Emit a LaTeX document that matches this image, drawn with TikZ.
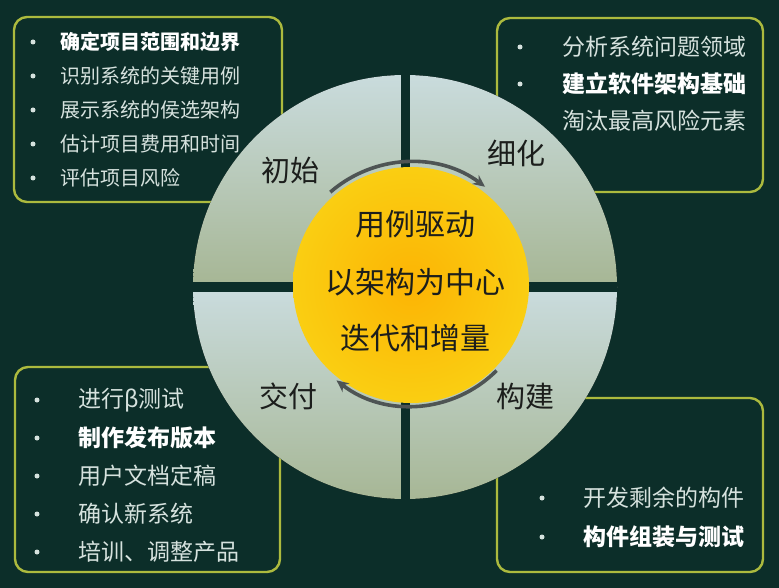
\documentclass[tikz,border=0pt]{standalone}
\usepackage{fontspec}
\setmainfont{Noto Sans CJK SC}
\usetikzlibrary{arrows.meta,shadings}

\definecolor{bg}{RGB}{12,46,41}
\definecolor{edge}{RGB}{172,186,62}
\definecolor{itemgray}{RGB}{214,226,222}
\definecolor{qlight}{RGB}{202,220,222}
\definecolor{qdark}{RGB}{166,182,148}
\definecolor{hubin}{RGB}{252,180,4}
\definecolor{hubout}{RGB}{250,206,18}
\definecolor{arcgray}{RGB}{78,84,84}
\definecolor{labeldark}{RGB}{28,30,28}

\begin{document}
\begin{tikzpicture}[x=1pt,y=-1pt,
  panel/.style={draw=edge,line width=2.4pt,rounded corners=13pt,inner sep=0pt},
  dot/.style={circle,fill=itemgray,inner sep=0pt,minimum size=5pt},
  item/.style={anchor=west,inner sep=0pt,text=itemgray},
  phase/.style={text=labeldark,font=\fontsize{29}{34}\selectfont},
  motto/.style={text=labeldark,font=\fontsize{30}{36}\selectfont},
  cycle arrow/.style={draw=arcgray,line width=3.6pt,-{Stealth[length=12pt,width=11pt]}}]
\useasboundingbox (0,0) rectangle (779,588);
\fill[bg] (0,0) rectangle (779,588);

% the four boxes
\node[panel,minimum width=268pt,minimum height=185pt] (initbox) at (148,109.5) {};
\node[panel,minimum width=266pt,minimum height=174pt] (elabbox) at (630,105) {};
\node[panel,minimum width=265pt,minimum height=205pt] (tranbox) at (147.5,469.5) {};
\node[panel,minimum width=266pt,minimum height=174pt] (consbox) at (630,485) {};

% box texts
\begin{scope}[item/.append style={font=\fontsize{20}{24}\selectfont}]
\node[dot] (idot1) at (33,42) {};
\node[item,text=white,font=\fontsize{20}{24}\selectfont\bfseries] (iitem1) at (60,42) {确定项目范围和边界};
\foreach \y/\t [count=\i from 2] in {76/识别系统的关键用例,110/展示系统的侯选架构,144/估计项目费用和时间,178/评估项目风险}{
  \node[dot] (idot\i) at (33,\y) {};
  \node[item] (iitem\i) at (60,\y) {\t};
}
\end{scope}

\begin{scope}[item/.append style={font=\fontsize{23}{28}\selectfont}]
\node[dot] (edot1) at (520,47) {};
\node[item] (eitem1) at (562,47) {分析系统问题领域};
\node[dot] (edot2) at (520,84) {};
\node[item,text=white,font=\fontsize{23}{28}\selectfont\bfseries] (eitem2) at (562,84) {建立软件架构基础};
\node[item] (eitem3) at (562,121) {淘汰最高风险元素};

\node[dot] (tdot1) at (37,400) {};
\node[item] (titem1) at (78,400) {进行β测试};
\node[dot] (tdot2) at (37,438) {};
\node[item,text=white,font=\fontsize{23}{28}\selectfont\bfseries] (titem2) at (78,438) {制作发布版本};
\foreach \y/\t [count=\i from 3] in {476/用户文档定稿,514/确认新系统,552/培训、调整产品}{
  \node[dot] (tdot\i) at (37,\y) {};
  \node[item] (titem\i) at (78,\y) {\t};
}

\node[dot] (cdot1) at (542,498) {};
\node[item] (citem1) at (583,498) {开发剩余的构件};
\node[dot] (cdot2) at (542,537) {};
\node[item,text=white,font=\fontsize{23}{28}\selectfont\bfseries] (citem2) at (583,537) {构件组装与测试};
\end{scope}

% quartered disc
\begin{scope}
\clip (405,287) circle (212);
\fill[top color=qlight,bottom color=qdark] (190,72) rectangle (620,287);
\fill[top color=qlight,bottom color=qdark] (190,287) rectangle (620,503);
\fill[bg] (401,70) rectangle (410,505);
\fill[bg] (188,282) rectangle (622,292);
\end{scope}

% hub
\node[circle,inner sep=0pt,minimum size=236pt,shading=radial,inner color=hubin,outer color=hubout] (hub) at (411,285) {};
\node[motto] (usecase) at (415,224) {用例驱动};
\node[motto] (archcentric) at (415,282) {以架构为中心};
\node[motto] (iterative) at (415,338) {迭代和增量};

\draw[cycle arrow] ([shift={(-131:123)}]hub.center) arc[start angle=-131,end angle=-53,radius=123];
\draw[cycle arrow] ([shift={(45:121)}]hub.center) arc[start angle=45,end angle=128,radius=121];

% phase names
\node[phase] (inception) at (290,170) {初始};
\node[phase] (elaboration) at (516,153) {细化};
\node[phase] (transition) at (288,396) {交付};
\node[phase] (construction) at (525,396) {构建};
\end{tikzpicture}
\end{document}
